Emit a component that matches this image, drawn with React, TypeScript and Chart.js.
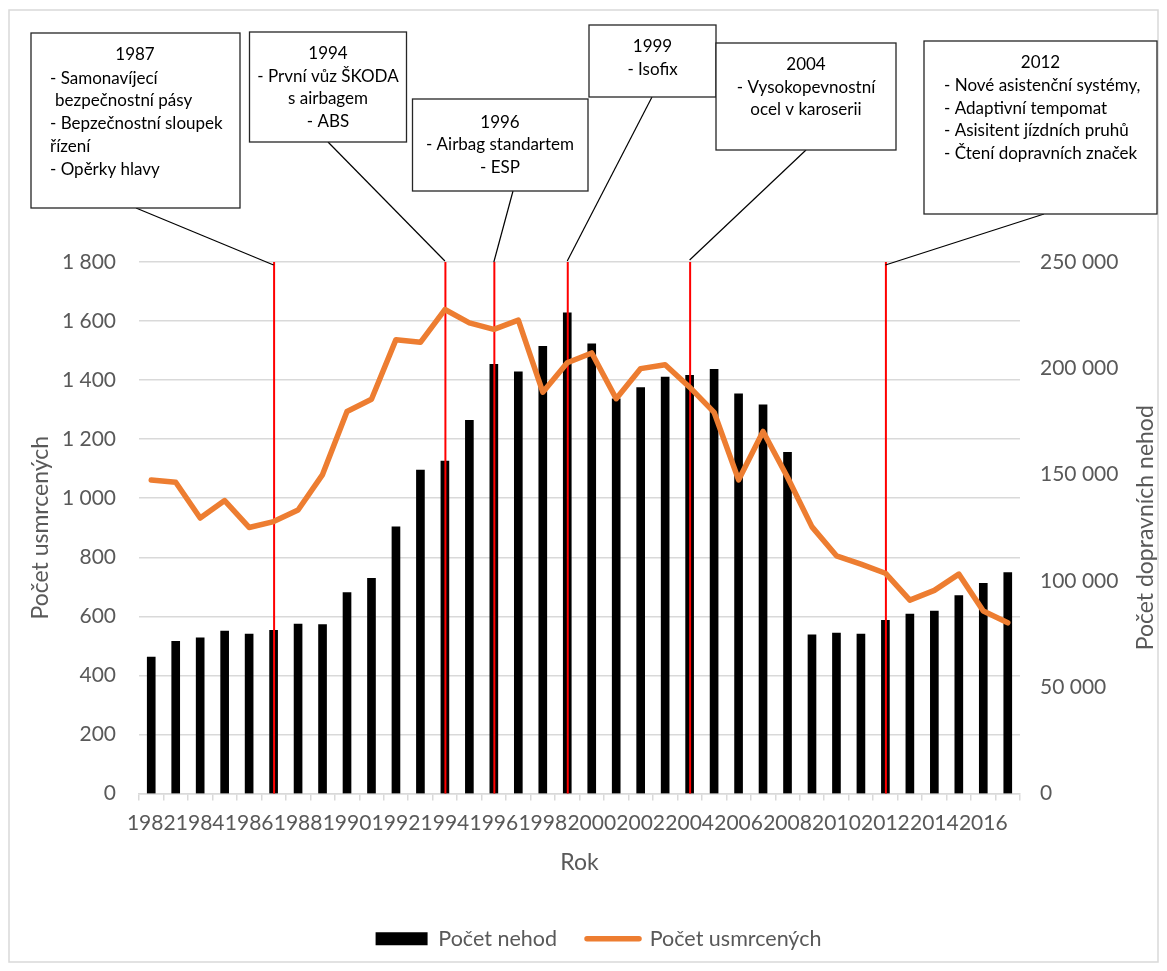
import React, { useEffect, useRef } from 'react';
import { Chart, registerables } from 'chart.js';

Chart.register(...registerables);

// ---------- data ----------
const years = [
  '1982', '1983', '1984', '1985', '1986', '1987', '1988', '1989', '1990', '1991',
  '1992', '1993', '1994', '1995', '1996', '1997', '1998', '1999', '2000', '2001',
  '2002', '2003', '2004', '2005', '2006', '2007', '2008', '2009', '2010', '2011',
  '2012', '2013', '2014', '2015', '2016', '2017',
];

// Počet nehod (right axis)
const accidents = [
  64150, 71540, 73270, 76420, 75000, 76730, 79720, 79400, 94500, 101260,
  125470, 152080, 156320, 175470, 201890, 198300, 210380, 226080, 211510, 185660,
  190880, 195900, 196700, 199500, 188050, 182870, 160520, 74670, 75470, 75000,
  81440, 84430, 85850, 93070, 98900, 103910,
];

// Počet usmrcených (left axis)
const deaths = [
  1062, 1054, 933, 992, 901, 921, 960, 1080, 1294, 1335,
  1537, 1528, 1639, 1594, 1572, 1603, 1359, 1459, 1492, 1337,
  1439, 1452, 1376, 1291, 1062, 1226, 1071, 903, 805, 777,
  746, 655, 688, 743, 618, 578,
];

const eventYears = ['1987', '1994', '1996', '1999', '2004', '2012'];

const seriesAccidents = 'Počet nehod';
const seriesDeaths = 'Počet usmrcených';
const xTitle = 'Rok';
const leftTitle = 'Počet usmrcených';
const rightTitle = 'Počet dopravních nehod';

const FONT = 'Lato, "Open Sans", sans-serif';
const AXIS_COLOR = '#595959';
const GRID_COLOR = '#d9d9d9';

type NoteLine = { text: string; x: number; y: number; align: CanvasTextAlign };
type Note = {
  year: string;
  box: [number, number, number, number];
  from: [number, number];
  tipY: number;
  lines: NoteLine[];
};

const notes: Note[] = [
  {
    year: '1987', box: [23, 25, 209, 175], from: [128, 200], tipY: 257,
    lines: [
      { text: '1987', x: 127, y: 47, align: 'center' },
      { text: '- Samonavíjecí', x: 42, y: 70.3, align: 'left' },
      { text: 'bezpečnostní pásy', x: 47, y: 92.7, align: 'left' },
      { text: '- Bepzečnostní sloupek', x: 42, y: 115.3, align: 'left' },
      { text: 'řízení', x: 42, y: 138.7, align: 'left' },
      { text: '- Opěrky hlavy', x: 42, y: 162, align: 'left' },
    ],
  },
  {
    year: '1994', box: [241.5, 24, 157, 110], from: [320, 134], tipY: 253,
    lines: [
      { text: '1994', x: 320, y: 45.3, align: 'center' },
      { text: '- První vůz ŠKODA', x: 320, y: 68.7, align: 'center' },
      { text: 's airbagem', x: 320, y: 91, align: 'center' },
      { text: '- ABS', x: 320, y: 113.7, align: 'center' },
    ],
  },
  {
    year: '1996', box: [404.5, 91, 175.5, 92], from: [505, 183], tipY: 254,
    lines: [
      { text: '1996', x: 492, y: 114.7, align: 'center' },
      { text: '- Airbag standartem', x: 492, y: 136.3, align: 'center' },
      { text: '- ESP', x: 492, y: 159.7, align: 'center' },
    ],
  },
  {
    year: '1999', box: [581, 17, 127, 72], from: [644, 89], tipY: 253,
    lines: [
      { text: '1999', x: 644.5, y: 38.7, align: 'center' },
      { text: '- Isofix', x: 644.5, y: 61.3, align: 'center' },
    ],
  },
  {
    year: '2004', box: [708, 35, 180, 107], from: [798, 142], tipY: 252,
    lines: [
      { text: '2004', x: 798, y: 57, align: 'center' },
      { text: '- Vysokopevnostní', x: 798, y: 79.7, align: 'center' },
      { text: 'ocel v karoserii', x: 798, y: 102, align: 'center' },
    ],
  },
  {
    year: '2012', box: [916, 33, 233, 173], from: [1036, 206], tipY: 257,
    lines: [
      { text: '2012', x: 1032.5, y: 54.7, align: 'center' },
      { text: '- Nové asistenční systémy,', x: 936, y: 78, align: 'left' },
      { text: '- Adaptivní tempomat', x: 936, y: 100.3, align: 'left' },
      { text: '- Asisitent jízdních pruhů', x: 936, y: 123, align: 'left' },
      { text: '- Čtení dopravních značek', x: 936, y: 146, align: 'left' },
    ],
  },
];

const fmt = (v: number) => String(v).replace(/\B(?=(\d{3})+(?!\d))/g, ' ');

const overlayPlugin = {
  id: 'overlay',
  beforeDraw(chart: any) {
    const { ctx, width, height } = chart;
    ctx.save();
    ctx.fillStyle = '#ffffff';
    ctx.fillRect(0, 0, width, height);
    ctx.strokeStyle = GRID_COLOR;
    ctx.lineWidth = 1.5;
    ctx.strokeRect(1, 2, width - 2, height - 3);
    ctx.restore();
  },
  beforeDatasetDraw(chart: any, args: any) {
    if (args.meta.type !== 'line') return;
    const { ctx, chartArea, scales } = chart;
    ctx.save();
    ctx.strokeStyle = '#ff0000';
    ctx.lineWidth = 2;
    eventYears.forEach((y) => {
      const x = scales.x.getPixelForValue(years.indexOf(y));
      ctx.beginPath();
      ctx.moveTo(x + 0.5, chartArea.top);
      ctx.lineTo(x + 0.5, chartArea.bottom);
      ctx.stroke();
    });
    ctx.restore();
  },
  afterDraw(chart: any) {
    const { ctx, scales, chartArea } = chart;
    ctx.save();
    notes.forEach((n) => {
      const tipX = scales.x.getPixelForValue(years.indexOf(n.year));
      ctx.strokeStyle = '#000000';
      ctx.lineWidth = 1.2;
      ctx.beginPath();
      ctx.moveTo(n.from[0], n.from[1]);
      ctx.lineTo(tipX, n.tipY);
      ctx.stroke();
    });
    notes.forEach((n) => {
      const [bx, by, bw, bh] = n.box;
      ctx.fillStyle = '#ffffff';
      ctx.fillRect(bx, by, bw, bh);
      ctx.strokeStyle = '#262626';
      ctx.lineWidth = 1.3;
      ctx.strokeRect(bx, by, bw, bh);
      ctx.fillStyle = '#000000';
      ctx.font = `17px ${FONT}`;
      ctx.textBaseline = 'middle';
      n.lines.forEach((l) => {
        ctx.textAlign = l.align;
        ctx.fillText(l.text, l.x, l.y);
      });
    });
    // right axis title, reading bottom-to-top
    ctx.translate(1138, (chartArea.top + chartArea.bottom) / 2);
    ctx.rotate(-Math.PI / 2);
    ctx.fillStyle = AXIS_COLOR;
    ctx.font = `23px ${FONT}`;
    ctx.textAlign = 'center';
    ctx.textBaseline = 'middle';
    ctx.fillText(rightTitle, 0, 0);
    ctx.restore();
  },
};

export default function App() {
  const ref = useRef<HTMLCanvasElement>(null);

  useEffect(() => {
    if (!ref.current) return;
    const chart = new Chart(ref.current, {
      type: 'bar',
      data: {
        labels: years,
        datasets: [
          {
            type: 'bar',
            label: seriesAccidents,
            data: accidents,
            backgroundColor: '#000000',
            borderColor: '#000000',
            borderWidth: 0,
            barThickness: 8,
            yAxisID: 'y1',
            order: 1,
          } as any,
          {
            type: 'line',
            label: seriesDeaths,
            data: deaths,
            borderColor: '#ED7D31',
            backgroundColor: '#ED7D31',
            borderWidth: 5.5,
            pointRadius: 0,
            tension: 0,
            borderJoinStyle: 'round',
            borderCapStyle: 'round',
            yAxisID: 'y',
            order: 0,
          } as any,
        ],
      },
      options: {
        responsive: true,
        maintainAspectRatio: false,
        animation: false,
        events: [],
        layout: { padding: { top: 254, left: 0, right: -30, bottom: 3.5 } },
        plugins: {
          tooltip: { enabled: false },
          legend: {
            position: 'bottom',
            align: 'center',
            labels: {
              usePointStyle: true,
              pointStyleWidth: 52,
              boxHeight: 13,
              padding: 30,
              color: AXIS_COLOR,
              font: { family: FONT, size: 21.5 },
              sort: (a: any, b: any) => a.datasetIndex - b.datasetIndex,
              generateLabels: (c: any) =>
                Chart.defaults.plugins.legend.labels
                  .generateLabels(c)
                  .map((l: any) => ({
                    ...l,
                    pointStyle: l.datasetIndex === 0 ? 'rect' : 'line',
                    lineCap: 'round',
                  })),
            },
          },
        },
        scales: {
          x: {
            type: 'category',
            offset: true,
            grid: {
              display: true,
              drawOnChartArea: false,
              drawTicks: true,
              tickLength: 7,
              color: GRID_COLOR,
              lineWidth: 1.5,
              offset: true,
            },
            border: { display: true, color: GRID_COLOR, width: 1.5 },
            ticks: {
              autoSkip: false,
              maxRotation: 0,
              minRotation: 0,
              padding: 10,
              color: AXIS_COLOR,
              font: { family: FONT, size: 21 },
              callback: (_v: any, i: number) => (i % 2 === 0 ? years[i] : ''),
            },
            title: {
              display: true,
              text: xTitle,
              color: AXIS_COLOR,
              font: { family: FONT, size: 23 },
              padding: { top: 3, bottom: 21.7 },
            },
          },
          y: {
            position: 'left',
            min: 0,
            max: 1800,
            grid: { color: GRID_COLOR, lineWidth: 1.5, drawTicks: false },
            border: { display: false },
            ticks: {
              stepSize: 200,
              padding: 23,
              color: AXIS_COLOR,
              font: { family: FONT, size: 21 },
              callback: (v: any) => fmt(Number(v)),
            },
            title: {
              display: true,
              text: leftTitle,
              color: AXIS_COLOR,
              font: { family: FONT, size: 23 },
              padding: { top: 19, bottom: 0 },
            },
            afterFit: (s: any) => {
              s.width = 131;
            },
          },
          y1: {
            position: 'right',
            min: 0,
            max: 250000,
            grid: { display: false, drawTicks: false },
            border: { display: false },
            ticks: {
              stepSize: 50000,
              padding: 20,
              color: AXIS_COLOR,
              font: { family: FONT, size: 21 },
              callback: (v: any) => fmt(Number(v)),
            },
            afterFit: (s: any) => {
              s.width = 169;
            },
          },
        },
      } as any,
      plugins: [overlayPlugin],
    });
    let alive = true;
    if ((document as any).fonts && (document as any).fonts.load) {
      Promise.all([
        (document as any).fonts.load(`16px Lato`),
        (document as any).fonts.load(`21px Lato`),
      ]).then(() => {
        if (alive) chart.update();
      }).catch(() => {});
    }
    return () => {
      alive = false;
      chart.destroy();
    };
  }, []);

  return (
    <div style={{ position: 'relative', width: 1151, height: 955 }}>
      <canvas ref={ref} />
    </div>
  );
}
